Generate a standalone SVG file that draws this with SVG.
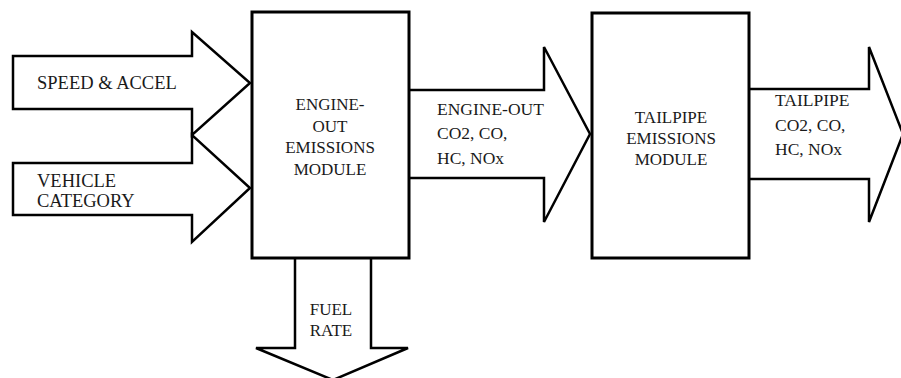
<svg xmlns="http://www.w3.org/2000/svg" width="901" height="378" viewBox="0 0 901 378">
<style>
.bg{fill:#fff}
.arrow{fill:#fff;stroke:#000;stroke-width:2.5;stroke-linejoin:miter}
.box{fill:#fff;stroke:#000;stroke-width:3}
.t{font-family:"Liberation Serif","Times New Roman",serif;font-size:17px;fill:#1a1a1a}
.a{font-family:"Liberation Serif","Times New Roman",serif;font-size:17.5px;fill:#1a1a1a}
.l{font-family:"Liberation Serif","Times New Roman",serif;font-size:18.5px;fill:#1a1a1a}
.c{text-anchor:middle}
</style>
<rect class="bg" x="0" y="0" width="901" height="378"/>
<g id="connectors">
  <g id="in-speed">
    <path class="arrow" d="M13,56 H192 V32 L250,83 L192,135 V109 H13 Z"/>
    <text class="l" x="37" y="89">SPEED &amp; ACCEL</text>
  </g>
  <g id="in-vehicle">
    <path class="arrow" d="M13,163 H192 V135 L250,188 L192,242 V215 H13 Z"/>
    <text class="l" x="37" y="187">VEHICLE</text>
    <text class="l" x="37" y="207">CATEGORY</text>
  </g>
  <g id="engine-to-tailpipe">
    <path class="arrow" d="M409,90 H544 V47 L590,134 L544,222 V178 H409"/>
    <text class="a" x="437" y="115">ENGINE-OUT</text>
    <text class="a" x="437" y="139">CO2, CO,</text>
    <text class="a" x="437" y="164">HC, NOx</text>
  </g>
  <g id="tailpipe-out">
    <path class="arrow" d="M749,89 H869 V47 L903,134 L869,222 V179 H749"/>
    <text class="a" x="775" y="106">TAILPIPE</text>
    <text class="a" x="775" y="131">CO2, CO,</text>
    <text class="a" x="775" y="155">HC, NOx</text>
  </g>
  <g id="fuel-out">
    <path class="arrow" d="M295,258 V348 H256 L333,380 L408,348 H371 V258"/>
    <text class="t c" x="331" y="315">FUEL</text>
    <text class="t c" x="331" y="336">RATE</text>
  </g>
</g>
<g id="engine-module">
  <rect class="box" x="252" y="12" width="157" height="246"/>
  <text class="t c" x="330" y="110">ENGINE-</text>
  <text class="t c" x="330" y="132">OUT</text>
  <text class="t c" x="330" y="153">EMISSIONS</text>
  <text class="t c" x="330" y="175">MODULE</text>
</g>
<g id="tailpipe-module">
  <rect class="box" x="592" y="13" width="157" height="245"/>
  <text class="t c" x="671" y="123">TAILPIPE</text>
  <text class="t c" x="671" y="144">EMISSIONS</text>
  <text class="t c" x="671" y="165">MODULE</text>
</g>
</svg>
